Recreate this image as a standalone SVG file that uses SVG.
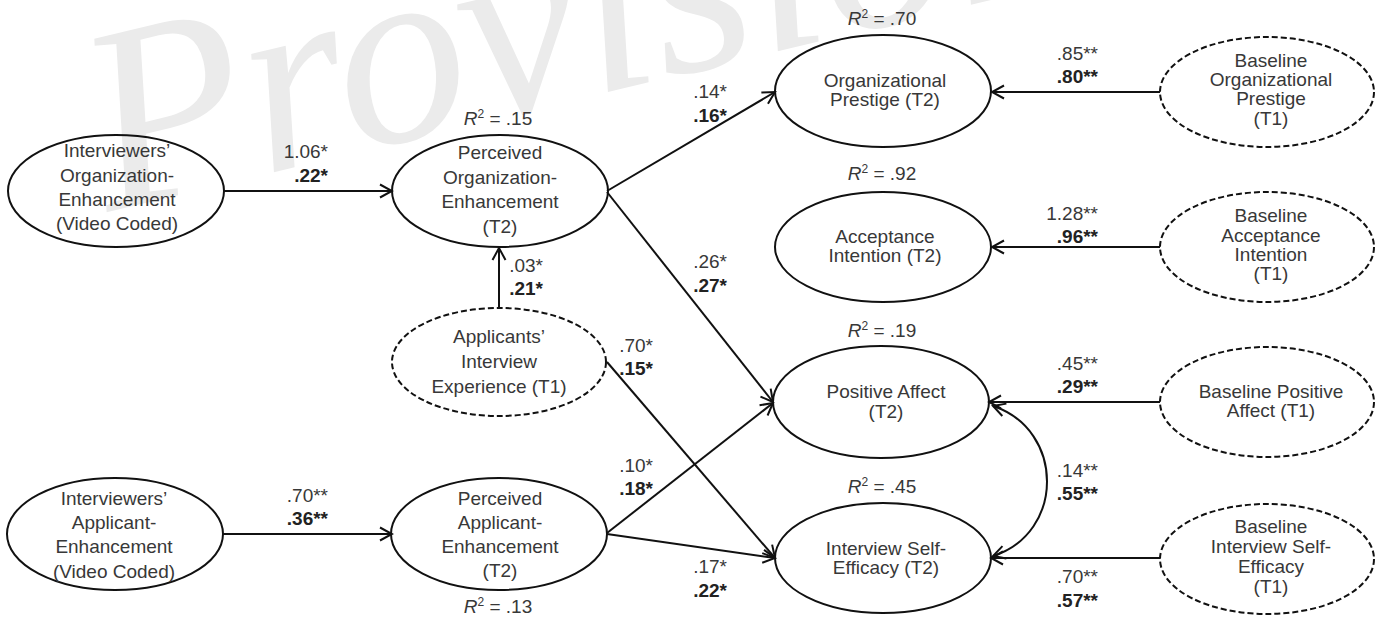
<svg xmlns="http://www.w3.org/2000/svg" width="1382" height="618" viewBox="0 0 1382 618">
<style>
.wm{font-family:"Liberation Serif",serif;font-style:italic;font-size:262px;fill:#ebebeb}
.n{fill:none;stroke:#111;stroke-width:2}
.d{fill:none;stroke:#111;stroke-width:2;stroke-dasharray:6 3}
.t{font-family:"Liberation Sans",Arial,sans-serif;font-size:19px;fill:#383838;text-anchor:middle}
.l{font-family:"Liberation Sans",Arial,sans-serif;font-size:19px;fill:#383838;text-anchor:end}
.b{font-weight:bold;fill:#222}
.r{font-family:"Liberation Sans",Arial,sans-serif;font-size:19px;fill:#383838;text-anchor:middle}
.e{fill:none;stroke:#111;stroke-width:2}
</style>
<defs>
<marker id="ah" markerUnits="userSpaceOnUse" markerWidth="16" markerHeight="16" viewBox="0 0 16 16" refX="14" refY="8" orient="auto-start-reverse">
<path d="M2,1.5 L14,8 L2,14.5" fill="none" stroke="#111" stroke-width="2"/>
</marker>
</defs>
<rect width="1382" height="618" fill="#fff"/>
<text class="wm" x="108" y="212" transform="rotate(-13.5 108 212)">Provisional</text>

<g id="connectors">
<line class="e" x1="224" y1="191" x2="392" y2="191" marker-end="url(#ah)"/>
<line class="e" x1="607" y1="191" x2="775" y2="92" marker-end="url(#ah)"/>
<line class="e" x1="607" y1="192" x2="773" y2="402" marker-end="url(#ah)"/>
<line class="e" x1="499" y1="308" x2="499" y2="248" marker-end="url(#ah)"/>
<line class="e" x1="607" y1="362" x2="775" y2="558" marker-end="url(#ah)"/>
<line class="e" x1="607" y1="533" x2="773" y2="403" marker-end="url(#ah)"/>
<line class="e" x1="607" y1="534" x2="775" y2="558" marker-end="url(#ah)"/>
<line class="e" x1="222" y1="534" x2="392" y2="534" marker-end="url(#ah)"/>
<line class="e" x1="1160" y1="92" x2="992" y2="92" marker-end="url(#ah)"/>
<line class="e" x1="1160" y1="247" x2="992" y2="247" marker-end="url(#ah)"/>
<line class="e" x1="1160" y1="402" x2="989" y2="402" marker-end="url(#ah)"/>
<line class="e" x1="1160" y1="558" x2="991" y2="558" marker-end="url(#ah)"/>
<path class="e" d="M993 406 C1065 430 1065 533 993 556" marker-start="url(#ah)" marker-end="url(#ah)"/>
</g>

<g id="labels">
<text class="l" x="328" y="158">1.06*</text>
<text class="l b" x="328" y="182">.22*</text>
<text class="l" x="727" y="98">.14*</text>
<text class="l b" x="727" y="122">.16*</text>
<text class="l" x="727" y="268">.26*</text>
<text class="l b" x="727" y="292">.27*</text>
<text class="l" x="543" y="272">.03*</text>
<text class="l b" x="543" y="295">.21*</text>
<text class="l" x="1098" y="60">.85**</text>
<text class="l b" x="1098" y="83">.80**</text>
<text class="l" x="1098" y="220">1.28**</text>
<text class="l b" x="1098" y="243">.96**</text>
<text class="l" x="653" y="352">.70*</text>
<text class="l b" x="653" y="375">.15*</text>
<text class="l" x="653" y="472">.10*</text>
<text class="l b" x="653" y="495">.18*</text>
<text class="l" x="727" y="573">.17*</text>
<text class="l b" x="727" y="597">.22*</text>
<text class="l" x="1098" y="370">.45**</text>
<text class="l b" x="1098" y="393">.29**</text>
<text class="l" x="1098" y="477">.14**</text>
<text class="l b" x="1098" y="500">.55**</text>
<text class="l" x="1098" y="583">.70**</text>
<text class="l b" x="1098" y="607">.57**</text>
<text class="l" x="328" y="502">.70**</text>
<text class="l b" x="328" y="525">.36**</text>
<text class="r" x="498" y="125"><tspan font-style="italic">R</tspan><tspan font-size="12" dy="-7">2</tspan><tspan dy="7"> = .15</tspan></text>
<text class="r" x="882" y="25"><tspan font-style="italic">R</tspan><tspan font-size="12" dy="-7">2</tspan><tspan dy="7"> = .70</tspan></text>
<text class="r" x="882" y="180"><tspan font-style="italic">R</tspan><tspan font-size="12" dy="-7">2</tspan><tspan dy="7"> = .92</tspan></text>
<text class="r" x="882" y="337"><tspan font-style="italic">R</tspan><tspan font-size="12" dy="-7">2</tspan><tspan dy="7"> = .19</tspan></text>
<text class="r" x="882" y="493"><tspan font-style="italic">R</tspan><tspan font-size="12" dy="-7">2</tspan><tspan dy="7"> = .45</tspan></text>
<text class="r" x="498" y="613"><tspan font-style="italic">R</tspan><tspan font-size="12" dy="-7">2</tspan><tspan dy="7"> = .13</tspan></text>
</g>

<g id="n1">
<ellipse class="n" cx="116" cy="191" rx="108" ry="56"/>
<text class="t" x="117" y="157">Interviewers’</text>
<text class="t" x="117" y="182">Organization-</text>
<text class="t" x="117" y="206">Enhancement</text>
<text class="t" x="117" y="230">(Video Coded)</text>
</g>
<g id="n2">
<ellipse class="n" cx="500" cy="191" rx="108" ry="56"/>
<text class="t" x="500" y="159">Perceived</text>
<text class="t" x="500" y="184">Organization-</text>
<text class="t" x="500" y="208">Enhancement</text>
<text class="t" x="500" y="233">(T2)</text>
</g>
<g id="n3">
<ellipse class="n" cx="883" cy="91" rx="108" ry="56"/>
<text class="t" x="885" y="87">Organizational</text>
<text class="t" x="885" y="106">Prestige (T2)</text>
</g>
<g id="n4">
<ellipse class="n" cx="883" cy="247" rx="108" ry="55"/>
<text class="t" x="885" y="243">Acceptance</text>
<text class="t" x="885" y="262">Intention (T2)</text>
</g>
<g id="n5">
<ellipse class="n" cx="881" cy="402" rx="108" ry="56"/>
<text class="t" x="886" y="398">Positive Affect</text>
<text class="t" x="886" y="418">(T2)</text>
</g>
<g id="n6">
<ellipse class="n" cx="883" cy="558" rx="108" ry="55"/>
<text class="t" x="886" y="555">Interview Self-</text>
<text class="t" x="886" y="574">Efficacy (T2)</text>
</g>
<g id="n7">
<ellipse class="n" cx="115" cy="534" rx="108" ry="56"/>
<text class="t" x="114" y="505">Interviewers’</text>
<text class="t" x="114" y="529">Applicant-</text>
<text class="t" x="114" y="553">Enhancement</text>
<text class="t" x="114" y="578">(Video Coded)</text>
</g>
<g id="n8">
<ellipse class="n" cx="499" cy="534" rx="108" ry="56"/>
<text class="t" x="500" y="505">Perceived</text>
<text class="t" x="500" y="529">Applicant-</text>
<text class="t" x="500" y="553">Enhancement</text>
<text class="t" x="500" y="577">(T2)</text>
</g>
<g id="n9">
<ellipse class="d" cx="499" cy="362" rx="107" ry="54"/>
<text class="t" x="499" y="343">Applicants’</text>
<text class="t" x="499" y="368">Interview</text>
<text class="t" x="499" y="393">Experience (T1)</text>
</g>
<g id="n10">
<ellipse class="d" cx="1267" cy="92" rx="107" ry="55"/>
<text class="t" x="1271" y="67">Baseline</text>
<text class="t" x="1271" y="86">Organizational</text>
<text class="t" x="1271" y="105">Prestige</text>
<text class="t" x="1271" y="125">(T1)</text>
</g>
<g id="n11">
<ellipse class="d" cx="1267" cy="247" rx="107" ry="55"/>
<text class="t" x="1271" y="222">Baseline</text>
<text class="t" x="1271" y="242">Acceptance</text>
<text class="t" x="1271" y="261">Intention</text>
<text class="t" x="1271" y="280">(T1)</text>
</g>
<g id="n12">
<ellipse class="d" cx="1267" cy="402" rx="107" ry="55"/>
<text class="t" x="1271" y="398">Baseline Positive</text>
<text class="t" x="1271" y="417">Affect (T1)</text>
</g>
<g id="n13">
<ellipse class="d" cx="1267" cy="559" rx="107" ry="55"/>
<text class="t" x="1271" y="533">Baseline</text>
<text class="t" x="1271" y="553">Interview Self-</text>
<text class="t" x="1271" y="573">Efficacy</text>
<text class="t" x="1271" y="593">(T1)</text>
</g>
</svg>
